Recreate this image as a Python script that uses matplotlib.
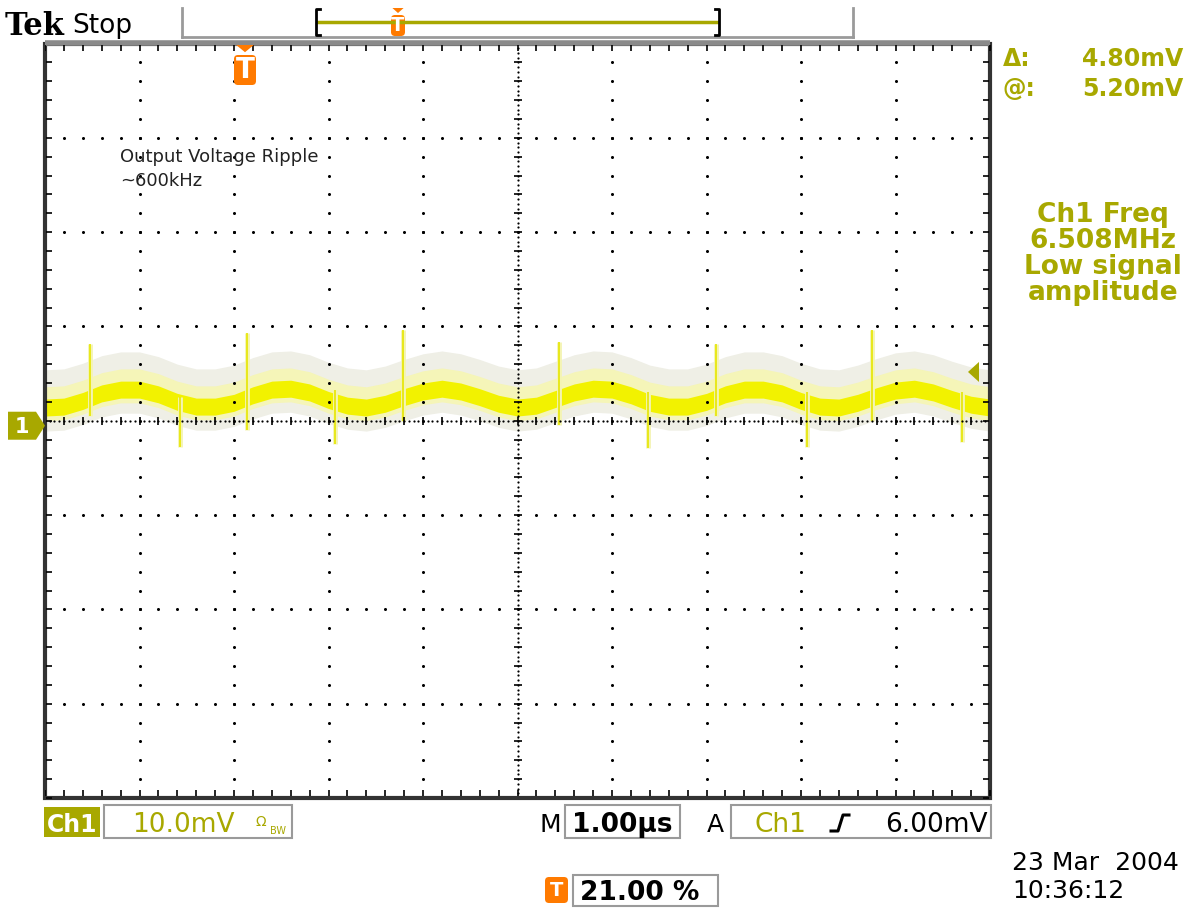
import numpy as np
import matplotlib
matplotlib.use("Agg")
import matplotlib.pyplot as plt
from matplotlib.patches import Polygon, FancyBboxPatch, Rectangle

# ---------------- data (screen divisions: 10 mV/div, 1.00 us/div) ----------------
trace_x = [0.0, 0.2, 0.4, 0.6, 0.8, 1.0, 1.2, 1.4, 1.6, 1.8,
           2.0, 2.2, 2.4, 2.6, 2.8, 3.0, 3.2, 3.4, 3.6, 3.8,
           4.0, 4.2, 4.4, 4.6, 4.8, 5.0, 5.2, 5.4, 5.6, 5.8,
           6.0, 6.2, 6.4, 6.6, 6.8, 7.0, 7.2, 7.4, 7.6, 7.8,
           8.0, 8.2, 8.4, 8.6, 8.8, 9.0, 9.2, 9.4, 9.6, 9.8, 10.0]
trace_center = [0.14, 0.15, 0.21, 0.29, 0.33, 0.33, 0.28, 0.20, 0.15, 0.15,
                0.19, 0.27, 0.33, 0.34, 0.30, 0.22, 0.16, 0.14, 0.18, 0.25,
                0.31, 0.34, 0.31, 0.25, 0.18, 0.14, 0.16, 0.23, 0.30, 0.34,
                0.33, 0.27, 0.19, 0.15, 0.15, 0.20, 0.28, 0.33, 0.33, 0.29,
                0.21, 0.15, 0.14, 0.19, 0.26, 0.32, 0.34, 0.30, 0.23, 0.17, 0.14]
spike_up_x = [0.48, 2.14, 3.79, 5.44, 7.10, 8.75]
spike_up_top = [0.81, 0.93, 0.96, 0.84, 0.81, 0.96]
spike_up_bottom = [0.05, -0.10, 0.00, -0.05, 0.05, 0.00]
spike_dn_x = [1.43, 3.07, 6.38, 8.06, 9.70]
spike_dn_top = [0.25, 0.33, 0.30, 0.30, 0.30]
spike_dn_bottom = [-0.28, -0.25, -0.29, -0.28, -0.23]
trig_level_div = 0.52
ground_div = -0.05

ch_label = "Ch1"
volts_div = "10.0mV"
time_div = "1.00\u00b5s"
trig_text = "6.00mV"
trig_pos = "21.00 %"
meas_delta = "4.80mV"
meas_at = "5.20mV"
freq_lines = ["Ch1 Freq", "6.508MHz", "Low signal", "amplitude"]
note_lines = ["Output Voltage Ripple", "~600kHz"]
date_lines = ["23 Mar  2004", "10:36:12"]

# ---------------- figure ----------------
W, H = 1191, 910
fig = plt.figure(figsize=(W / 100, H / 100), dpi=100)
fig.patch.set_facecolor("white")

OLIVE = "#a8a800"
ORANGE = "#ff7a00"
YEL = "#f2f200"

g_left, g_right, g_top, g_bot = 45, 990, 43.5, 798
ax = fig.add_axes([g_left / W, 1 - g_bot / H, (g_right - g_left) / W, (g_bot - g_top) / H])
ax.set_xlim(0, 10)
ax.set_ylim(-4, 4)
ax.axis("off")

tx = np.array(trace_x)
tc = np.array(trace_center)
# trace: grey halo, pale band, bright core
ax.fill_between(tx, tc - 0.25, tc + 0.40, color="#efefe6", lw=0, zorder=1)
ax.fill_between(tx, tc - 0.14, tc + 0.22, color="#f5f5b8", lw=0, zorder=2)
ax.fill_between(tx, tc - 0.09, tc + 0.09, color=YEL, lw=0, zorder=3)
for xs, lo, hi in [(spike_up_x, spike_up_bottom, spike_up_top),
                   (spike_dn_x, spike_dn_bottom, spike_dn_top)]:
    ax.vlines(xs, lo, hi, color="#f4f4b4", lw=3.5, zorder=3.5)
    ax.vlines(xs, lo, hi, color="#e6e600", lw=1.2, zorder=4)

# graticule
mx = np.arange(0, 10.001, 0.2)
my = np.arange(-4, 4.001, 0.2)
for xv in [1, 2, 3, 4, 6, 7, 8, 9]:
    ax.plot(np.full_like(my, xv), my, "o", ms=2.2, mew=0, color="k", zorder=6)
for yv in [-3, -2, -1, 1, 2, 3]:
    ax.plot(mx, np.full_like(mx, yv), "o", ms=2.2, mew=0, color="k", zorder=6)
fx = np.arange(0, 10.001, 0.05)
fy = np.arange(-4, 4.001, 0.05)
ax.plot(fx, np.zeros_like(fx), "o", ms=1.6, mew=0, color="k", zorder=6)
ax.plot(np.full_like(fy, 5), fy, "o", ms=1.6, mew=0, color="k", zorder=6)
ax.plot(mx, np.zeros_like(mx), "|", ms=6, mew=1.2, color="k", zorder=6)
ax.plot(np.full_like(my, 5), my, "_", ms=6, mew=1.2, color="k", zorder=6)
# border and its ticks
ax.add_patch(Rectangle((0, -4), 10, 8, fill=False, lw=3, ec="#333333", zorder=7, clip_on=False))
ax.plot([0, 10], [4.01, 4.01], color="#8a8a8a", lw=4, zorder=7, clip_on=False, solid_capstyle="butt")
ax.plot(mx, np.full_like(mx, 3.95), "|", ms=5, mew=1.2, color="k", zorder=7)
ax.plot(mx, np.full_like(mx, -3.95), "|", ms=5, mew=1.2, color="k", zorder=7)
ax.plot(np.full_like(my, 0.04), my, "_", ms=5, mew=1.2, color="k", zorder=7)
ax.plot(np.full_like(my, 9.96), my, "_", ms=5, mew=1.2, color="k", zorder=7)

# ---------------- overlay in pixel coordinates ----------------
ov = fig.add_axes([0, 0, 1, 1])
ov.set_xlim(0, W)
ov.set_ylim(H, 0)
ov.axis("off")
ov.set_zorder(5)
ov.patch.set_alpha(0)

def ypx(div):
    return 421 - div * (g_bot - g_top) / 8.0

# ground marker "1"
gy = ypx(ground_div)
ov.add_patch(Polygon([(8, gy - 14), (36, gy - 14), (45, gy), (36, gy + 14), (8, gy + 14)],
                     closed=True, fc=OLIVE, ec="none"))
ov.text(22, gy + 1, "1", color="white", fontsize=15, fontweight="bold", ha="center", va="center")

# trigger level marker
ty = ypx(trig_level_div)
ov.add_patch(Polygon([(968, ty), (979, ty - 10), (979, ty + 10)], closed=True, fc=OLIVE, ec="none"))

def t_marker(cx, top, w, h):
    ov.add_patch(Polygon([(cx - w * 0.4, top), (cx + w * 0.4, top), (cx, top + h * 0.18)],
                         closed=True, fc=ORANGE, ec="none"))
    ov.add_patch(FancyBboxPatch((cx - w / 2, top + h * 0.25), w, h * 0.75,
                                boxstyle="round,pad=0,rounding_size=4", fc=ORANGE, ec="none"))
    ov.text(cx, top + h * 0.63, "T", color="white", fontsize=h * 0.5, fontweight="bold",
            ha="center", va="center")

# trigger position marker inside graticule and in record bar
t_marker(245, 45, 22, 40)
t_marker(398, 8, 14, 28)

# top status bar
ov.text(5, 35, "Tek", fontsize=22, fontweight="bold", family="DejaVu Serif", color="black", va="baseline")
ov.text(72, 33, "Stop", fontsize=19, color="black", va="baseline")
ov.plot([182, 182], [8, 37], color="#9a9a9a", lw=2)
ov.plot([853, 853], [8, 37], color="#9a9a9a", lw=2)
ov.plot([182, 853], [37, 37], color="#9a9a9a", lw=2)
ov.plot([318, 717], [22, 22], color=OLIVE, lw=2.5)
ov.plot([320, 316, 316, 320], [9, 9, 35, 35], color="black", lw=2)
ov.plot([715, 719, 719, 715], [9, 9, 35, 35], color="black", lw=2)

# right-hand readouts
ov.text(1003, 66, "\u0394:", fontsize=17, fontweight="bold", color=OLIVE, va="baseline")
ov.text(1183, 66, meas_delta, fontsize=17, fontweight="bold", color=OLIVE, va="baseline", ha="right")
ov.text(1003, 96, "@:", fontsize=17, fontweight="bold", color=OLIVE, va="baseline")
ov.text(1183, 96, meas_at, fontsize=17, fontweight="bold", color=OLIVE, va="baseline", ha="right")
for i, s in enumerate(freq_lines):
    ov.text(1103, 222 + 26 * i, s, fontsize=19, fontweight="bold", color=OLIVE,
            ha="center", va="baseline")

# annotation
for i, s in enumerate(note_lines):
    ov.text(120, 162 + 24 * i, s, fontsize=13, color="#222222", va="baseline")

# bottom status row
ov.add_patch(Rectangle((44, 807), 56, 30, fc=OLIVE, ec="none"))
ov.text(72, 832, ch_label, fontsize=17, fontweight="bold", color="white", ha="center", va="baseline")
ov.add_patch(Rectangle((104, 805), 188, 33, fill=False, ec="#9a9a9a", lw=1.5))
ov.text(132, 832, volts_div, fontsize=19, color=OLIVE, va="baseline")
ov.text(256, 826, "\u03a9", fontsize=10, color=OLIVE, va="baseline")
ov.text(270, 834, "BW", fontsize=7, color=OLIVE, va="baseline")
ov.text(540, 832, "M", fontsize=18, color="black", va="baseline")
ov.add_patch(Rectangle((565, 805), 115, 33, fill=False, ec="#9a9a9a", lw=1.5))
ov.text(572, 832, time_div, fontsize=19, fontweight="bold", color="black", va="baseline")
ov.text(707, 832, "A", fontsize=18, color="black", va="baseline")
ov.add_patch(Rectangle((731, 805), 260, 33, fill=False, ec="#9a9a9a", lw=1.5))
ov.text(754, 832, ch_label, fontsize=19, color=OLIVE, va="baseline")
ov.plot([831, 838, 843, 849], [831, 831, 815, 815], color="black", lw=2.2)
ov.text(988, 832, trig_text, fontsize=19, color="black", va="baseline", ha="right")

# trigger position readout
ov.add_patch(FancyBboxPatch((545, 877), 23, 26, boxstyle="round,pad=0,rounding_size=4", fc=ORANGE, ec="none"))
ov.text(556.5, 891, "T", fontsize=14, fontweight="bold", color="white", ha="center", va="center")
ov.add_patch(Rectangle((573, 875), 145, 31, fill=False, ec="#9a9a9a", lw=1.5))
ov.text(580, 900, trig_pos, fontsize=19, fontweight="bold", color="black", va="baseline")

# date / time
ov.text(1012, 870, date_lines[0], fontsize=18, color="black", va="baseline")
ov.text(1012, 898, date_lines[1], fontsize=18, color="black", va="baseline")

fig.savefig("out.png", dpi=100)
